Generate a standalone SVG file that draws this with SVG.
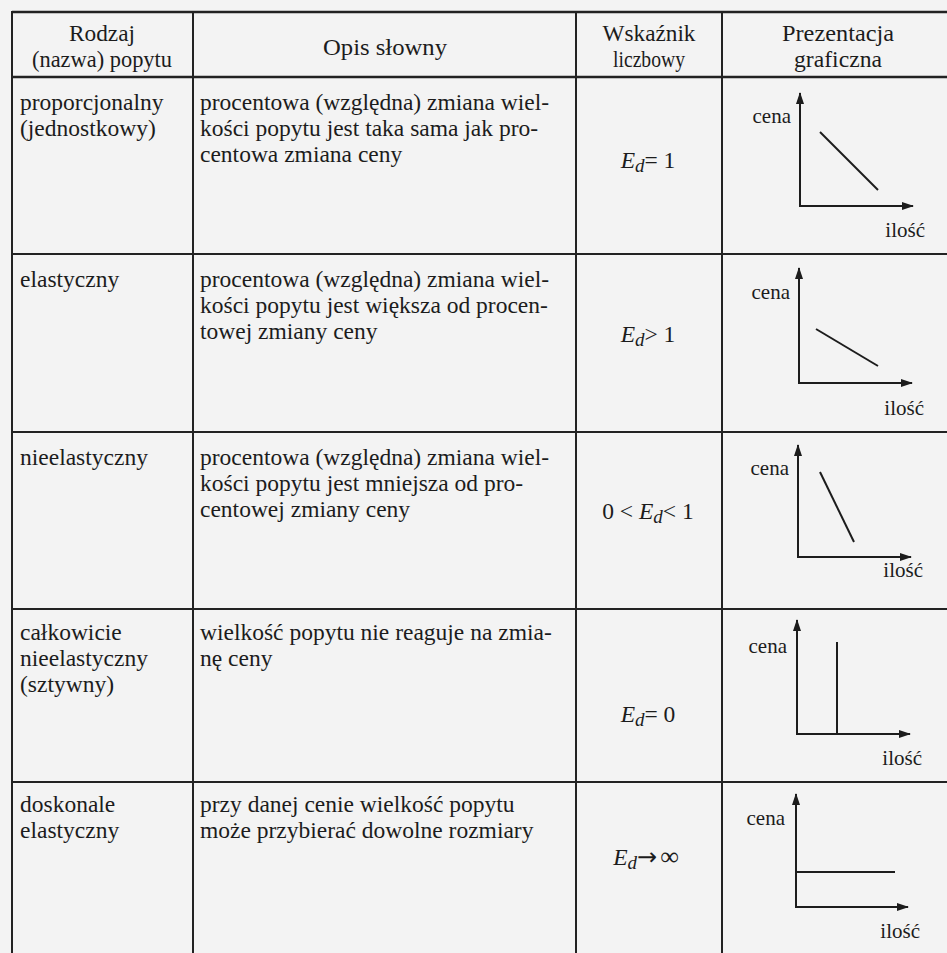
<svg xmlns="http://www.w3.org/2000/svg" width="947" height="953" viewBox="0 0 947 953">
<style>
text{font-family:"Liberation Serif","Times New Roman","DejaVu Serif",serif;fill:#1c1c1c}
.h{font-size:23px;text-anchor:middle}
.b{font-size:23.5px}
.f{font-size:23.5px;text-anchor:middle}
.i{font-style:italic}
.ar{font-family:"DejaVu Sans",sans-serif;font-size:24px}
.gl{font-size:21px;text-anchor:end}
.grid line{stroke:#222;stroke-width:2}
.ax{fill:none;stroke:#1c1c1c;stroke-width:2;marker-start:url(#ah);marker-end:url(#ah)}
.cv{fill:none;stroke:#1c1c1c;stroke-width:2}
</style>
<defs>
<marker id="ah" viewBox="0 0 12 8" refX="11" refY="4" markerWidth="12" markerHeight="8" markerUnits="userSpaceOnUse" orient="auto-start-reverse"><path d="M0,0 L12,4 L0,8 z" fill="#1c1c1c"/></marker>
</defs>
<rect width="947" height="953" fill="#f3f3f3"/>
<g id="grid" class="grid">
<line x1="12" y1="12" x2="947" y2="12" style="stroke-width:2.6"/>
<line x1="12" y1="77" x2="947" y2="77" style="stroke-width:2.6"/>
<line x1="12" y1="254" x2="947" y2="254"/>
<line x1="12" y1="432" x2="947" y2="432"/>
<line x1="12" y1="609" x2="947" y2="609"/>
<line x1="12" y1="782" x2="947" y2="782"/>
<line x1="12" y1="11" x2="12" y2="953"/>
<line x1="193" y1="11" x2="193" y2="953"/>
<line x1="576" y1="11" x2="576" y2="953"/>
<line x1="722" y1="11" x2="722" y2="953"/>
</g>
<g id="header">
<text class="h" x="102" y="41" textLength="66" lengthAdjust="spacingAndGlyphs">Rodzaj</text>
<text class="h" x="102" y="67" textLength="140" lengthAdjust="spacingAndGlyphs">(nazwa) popytu</text>
<text class="h" x="385" y="55" textLength="124" lengthAdjust="spacingAndGlyphs">Opis słowny</text>
<text class="h" x="649" y="41" textLength="93" lengthAdjust="spacingAndGlyphs">Wskaźnik</text>
<text class="h" x="649" y="67" textLength="72" lengthAdjust="spacingAndGlyphs">liczbowy</text>
<text class="h" x="838" y="41" textLength="112" lengthAdjust="spacingAndGlyphs">Prezentacja</text>
<text class="h" x="838" y="67" textLength="88" lengthAdjust="spacingAndGlyphs">graficzna</text>
</g>
<g id="row-proporcjonalny">
<text class="b" x="20" y="110">proporcjonalny</text>
<text class="b" x="20" y="136">(jednostkowy)</text>
<text class="b" x="200" y="110">procentowa (względna) zmiana wiel-</text>
<text class="b" x="200" y="136">kości popytu jest taka sama jak pro-</text>
<text class="b" x="200" y="162">centowa zmiana ceny</text>
<text class="f" x="648" y="168"><tspan class="i">E</tspan><tspan class="i" font-size="19" dy="4">d</tspan><tspan dy="-4">= 1</tspan></text>
<path class="ax" d="M800,93 L800,206 L913,206"/>
<line class="cv" x1="820" y1="132" x2="878" y2="190"/>
<text class="gl" x="791" y="123">cena</text>
<text class="gl" x="925" y="237">ilość</text>
</g>
<g id="row-elastyczny">
<text class="b" x="20" y="287">elastyczny</text>
<text class="b" x="200" y="287">procentowa (względna) zmiana wiel-</text>
<text class="b" x="200" y="313">kości popytu jest większa od procen-</text>
<text class="b" x="200" y="339">towej zmiany ceny</text>
<text class="f" x="648" y="342"><tspan class="i">E</tspan><tspan class="i" font-size="19" dy="4">d</tspan><tspan dy="-4">&gt; 1</tspan></text>
<path class="ax" d="M799,268 L799,383 L912,383"/>
<line class="cv" x1="816" y1="329" x2="878" y2="366"/>
<text class="gl" x="790" y="299">cena</text>
<text class="gl" x="924" y="415">ilość</text>
</g>
<g id="row-nieelastyczny">
<text class="b" x="20" y="465">nieelastyczny</text>
<text class="b" x="200" y="465">procentowa (względna) zmiana wiel-</text>
<text class="b" x="200" y="491">kości popytu jest mniejsza od pro-</text>
<text class="b" x="200" y="517">centowej zmiany ceny</text>
<text class="f" x="648" y="519">0 &lt; <tspan class="i">E</tspan><tspan class="i" font-size="19" dy="4">d</tspan><tspan dy="-4">&lt; 1</tspan></text>
<path class="ax" d="M798,445 L798,557 L911,557"/>
<line class="cv" x1="820" y1="472" x2="854" y2="542"/>
<text class="gl" x="789" y="475">cena</text>
<text class="gl" x="923" y="577">ilość</text>
</g>
<g id="row-calkowicie">
<text class="b" x="20" y="640">całkowicie</text>
<text class="b" x="20" y="666">nieelastyczny</text>
<text class="b" x="20" y="692">(sztywny)</text>
<text class="b" x="200" y="640">wielkość popytu nie reaguje na zmia-</text>
<text class="b" x="200" y="666">nę ceny</text>
<text class="f" x="648" y="722"><tspan class="i">E</tspan><tspan class="i" font-size="19" dy="4">d</tspan><tspan dy="-4">= 0</tspan></text>
<path class="ax" d="M797,620 L797,734 L910,734"/>
<line class="cv" x1="837" y1="642" x2="837" y2="734"/>
<text class="gl" x="787" y="653">cena</text>
<text class="gl" x="922" y="765">ilość</text>
</g>
<g id="row-doskonale">
<text class="b" x="20" y="812">doskonale</text>
<text class="b" x="20" y="838">elastyczny</text>
<text class="b" x="200" y="812">przy danej cenie wielkość popytu</text>
<text class="b" x="200" y="838">może przybierać dowolne rozmiary</text>
<text class="f" x="646" y="865"><tspan class="i">E</tspan><tspan class="i" font-size="19" dy="4">d</tspan><tspan class="ar" dy="-4">→</tspan><tspan font-size="26" dx="3">∞</tspan></text>
<path class="ax" d="M796,794 L796,907 L908,907"/>
<line class="cv" x1="796" y1="872" x2="895" y2="872"/>
<text class="gl" x="785" y="825">cena</text>
<text class="gl" x="920" y="938">ilość</text>
</g>
</svg>
